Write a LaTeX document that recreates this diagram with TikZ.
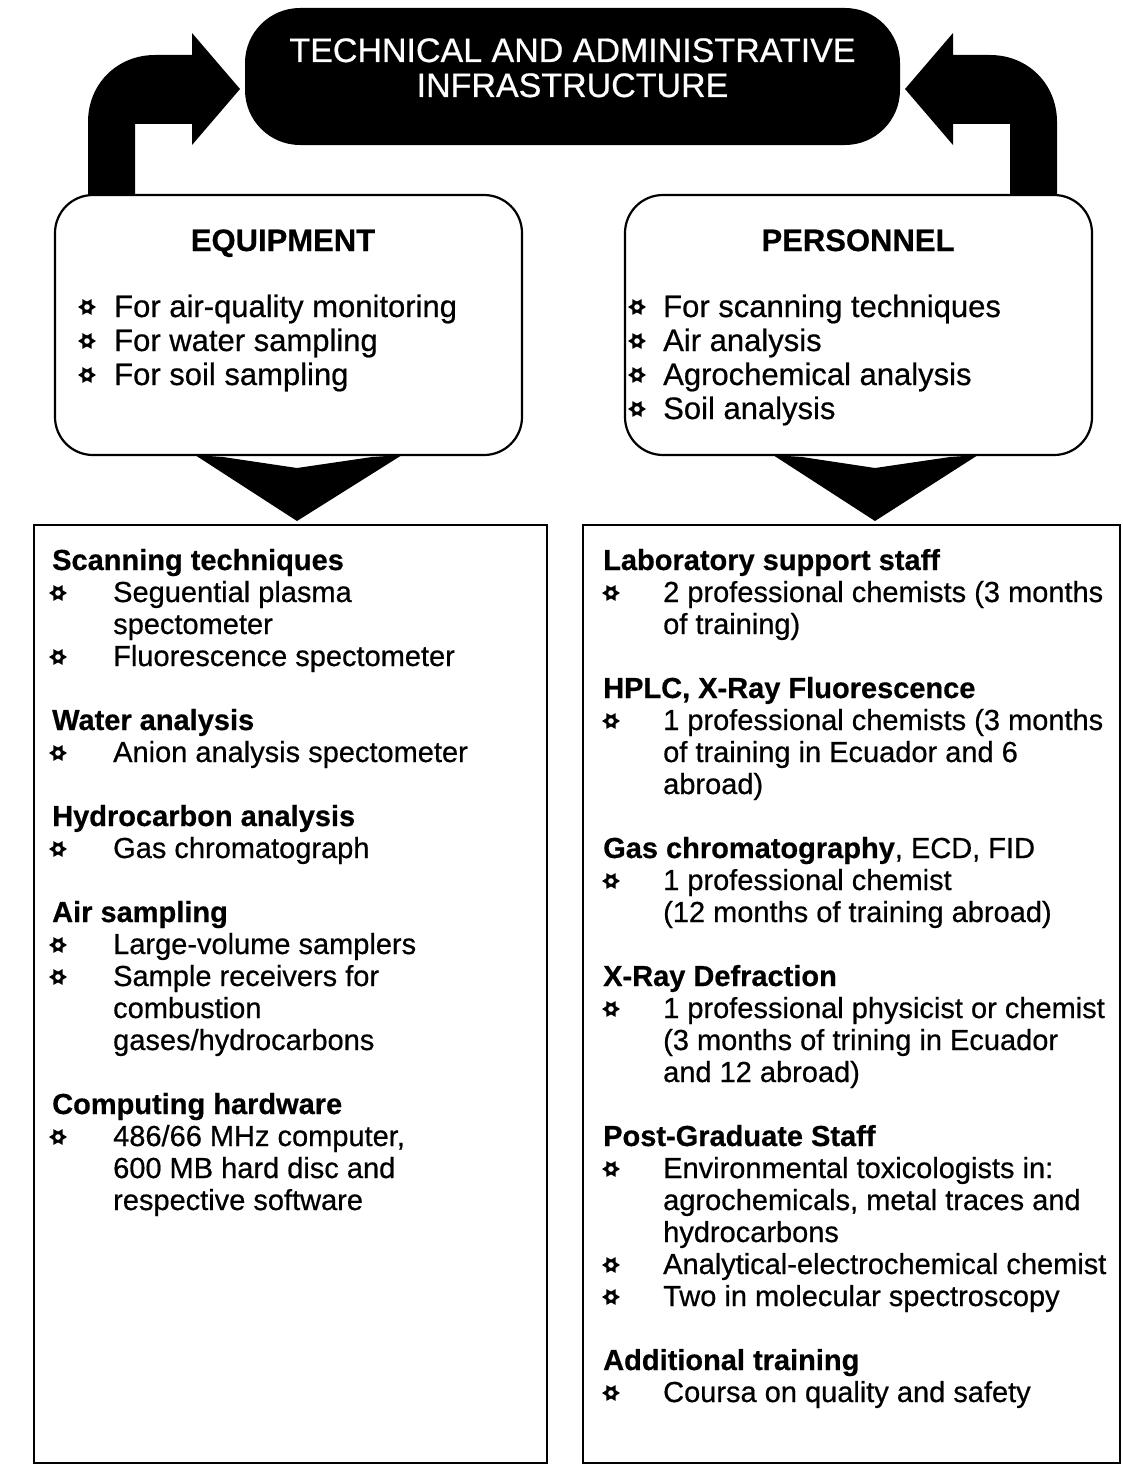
\documentclass[tikz,border=0pt]{standalone}
\usepackage{fontspec}
\setmainfont{Liberation Sans}[FakeBold=0.6]
\tikzset{
  sunmark/.pic={
    \fill (0:9) -- (30:5.4) -- (60:9) -- (90:5.4) -- (120:9) -- (150:5.4)
       -- (180:9) -- (210:5.4) -- (240:9) -- (270:5.4) -- (300:9) -- (330:5.4) -- cycle;
    \fill[white] (0,0) circle (2.8);
  },
  bodytext/.style={anchor=base west, inner sep=0pt, font=\fontsize{29}{32}\selectfont},
  headtext/.style={anchor=base west, inner sep=0pt, font=\fontsize{29}{32}\selectfont\bfseries},
  toptext/.style={anchor=base west, inner sep=0pt, font=\fontsize{31}{34}\selectfont},
  tophead/.style={anchor=base, inner sep=0pt, font=\fontsize{31}{34}\selectfont\bfseries},
  titletext/.style={anchor=base, inner sep=0pt, text=white, font=\fontsize{34}{36}\selectfont},
  bubble/.style={draw, line width=2.2pt, fill=white, rounded corners=38pt, inner sep=0pt},
  listbox/.style={draw, line width=2pt, inner sep=0pt},
}
\begin{document}
\begin{tikzpicture}[x=1pt,y=-1pt]
\useasboundingbox (0,0) rectangle (1122,1469);
\fill[white] (0,0) rectangle (1122,1469);

% central black banner
\node[fill=black, rounded corners=55pt, minimum width=655pt, minimum height=137pt, inner sep=0pt]
  (infra) at (572.5,76.5) {};
\node[titletext] (t1) at (572.5,62) {TECHNICAL AND ADMINISTRATIVE};
\node[titletext] (t2) at (572.5,97) {INFRASTRUCTURE};

% bent arrows rising from the two bubbles into the banner
\fill (88,205) -- (88,122) .. controls (88,84) and (117,55) .. (155,55)
  -- (192,55) -- (192,33) -- (240,89) -- (192,145) -- (192,124) -- (135,124)
  -- (135,205) -- cycle;
\fill (1057,205) -- (1057,122) .. controls (1057,84) and (1028,55) .. (990,55)
  -- (953,55) -- (953,33) -- (905,89) -- (953,145) -- (953,124) -- (1010,124)
  -- (1010,205) -- cycle;

% chevrons pointing down into the lists
\fill (195,455) -- (297,521) -- (402,455) -- (372,457) -- (297,468) -- (223,457) -- cycle;
\fill (773,455) -- (875,521) -- (978,455) -- (950,457) -- (875,468) -- (802,457) -- cycle;

% rounded bubbles
\node[bubble, minimum width=467pt, minimum height=260pt] (equip) at (288.5,325) {};
\node[bubble, minimum width=467pt, minimum height=260pt] (staff) at (858.5,325) {};

\node[tophead] (eqh) at (283,251) {EQUIPMENT};
\pic at (87,307) {sunmark};
\node[toptext] (eq1) at (114,317) {For air-quality monitoring};
\pic at (87,341) {sunmark};
\node[toptext] (eq2) at (114,351) {For water sampling};
\pic at (87,375) {sunmark};
\node[toptext] (eq3) at (114,385) {For soil sampling};

\node[tophead] (sth) at (858,251) {PERSONNEL};
\pic at (637,307) {sunmark};
\node[toptext] (st1) at (663,317) {For scanning techniques};
\pic at (637,341) {sunmark};
\node[toptext] (st2) at (663,351) {Air analysis};
\pic at (637,375) {sunmark};
\node[toptext] (st3) at (663,385) {Agrochemical analysis};
\pic at (637,409) {sunmark};
\node[toptext] (st4) at (663,419) {Soil analysis};

% list frames
\node[listbox, minimum width=513pt, minimum height=938pt] (eqlist) at (290.5,994) {};
\node[listbox, minimum width=537pt, minimum height=938pt] (stlist) at (851.5,994) {};

% equipment list
\node[headtext] (a0) at (52,570) {Scanning techniques};
\pic at (58,593) {sunmark};
\node[bodytext] (a1) at (113,602) {Seguential plasma};
\node[bodytext] (a2) at (113,634) {spectometer};
\pic at (58,657) {sunmark};
\node[bodytext] (a3) at (113,666) {Fluorescence spectometer};

\node[headtext] (a5) at (52,730) {Water analysis};
\pic at (58,753) {sunmark};
\node[bodytext] (a6) at (113,762) {Anion analysis spectometer};

\node[headtext] (a8) at (52,826) {Hydrocarbon analysis};
\pic at (58,849) {sunmark};
\node[bodytext] (a9) at (113,858) {Gas chromatograph};

\node[headtext] (a11) at (52,922) {Air sampling};
\pic at (58,945) {sunmark};
\node[bodytext] (a12) at (113,954) {Large-volume samplers};
\pic at (58,977) {sunmark};
\node[bodytext] (a13) at (113,986) {Sample receivers for};
\node[bodytext] (a14) at (113,1018) {combustion};
\node[bodytext] (a15) at (113,1050) {gases/hydrocarbons};

\node[headtext] (a17) at (52,1114) {Computing hardware};
\pic at (58,1137) {sunmark};
\node[bodytext] (a18) at (113,1146) {486/66 MHz computer,};
\node[bodytext] (a19) at (113,1178) {600 MB hard disc and};
\node[bodytext] (a20) at (113,1210) {respective software};

% personnel list
\node[headtext] (b0) at (603,570) {Laboratory support staff};
\pic at (611,593) {sunmark};
\node[bodytext] (b1) at (663,602) {2 professional chemists (3 months};
\node[bodytext] (b2) at (663,634) {of training)};

\node[headtext] (b4) at (603,698) {HPLC, X-Ray Fluorescence};
\pic at (611,721) {sunmark};
\node[bodytext] (b5) at (663,730) {1 professional chemists (3 months};
\node[bodytext] (b6) at (663,762) {of training in Ecuador and 6};
\node[bodytext] (b7) at (663,794) {abroad)};

\node[bodytext] (b9) at (603,858) {\bfseries Gas chromatography\mdseries, ECD, FID};
\pic at (611,881) {sunmark};
\node[bodytext] (b10) at (663,890) {1 professional chemist};
\node[bodytext] (b11) at (663,922) {(12 months of training abroad)};

\node[headtext] (b13) at (603,986) {X-Ray Defraction};
\pic at (611,1009) {sunmark};
\node[bodytext] (b14) at (663,1018) {1 professional physicist or chemist};
\node[bodytext] (b15) at (663,1050) {(3 months of trining in Ecuador};
\node[bodytext] (b16) at (663,1082) {and 12 abroad)};

\node[headtext] (b18) at (603,1146) {Post-Graduate Staff};
\pic at (611,1169) {sunmark};
\node[bodytext] (b19) at (663,1178) {Environmental toxicologists in:};
\node[bodytext] (b20) at (663,1210) {agrochemicals, metal traces and};
\node[bodytext] (b21) at (663,1242) {hydrocarbons};
\pic at (611,1265) {sunmark};
\node[bodytext] (b22) at (663,1274) {Analytical-electrochemical chemist};
\pic at (611,1297) {sunmark};
\node[bodytext] (b23) at (663,1306) {Two in molecular spectroscopy};

\node[headtext] (b25) at (603,1370) {Additional training};
\pic at (611,1393) {sunmark};
\node[bodytext] (b26) at (663,1402) {Coursa on quality and safety};
\end{tikzpicture}
\end{document}
